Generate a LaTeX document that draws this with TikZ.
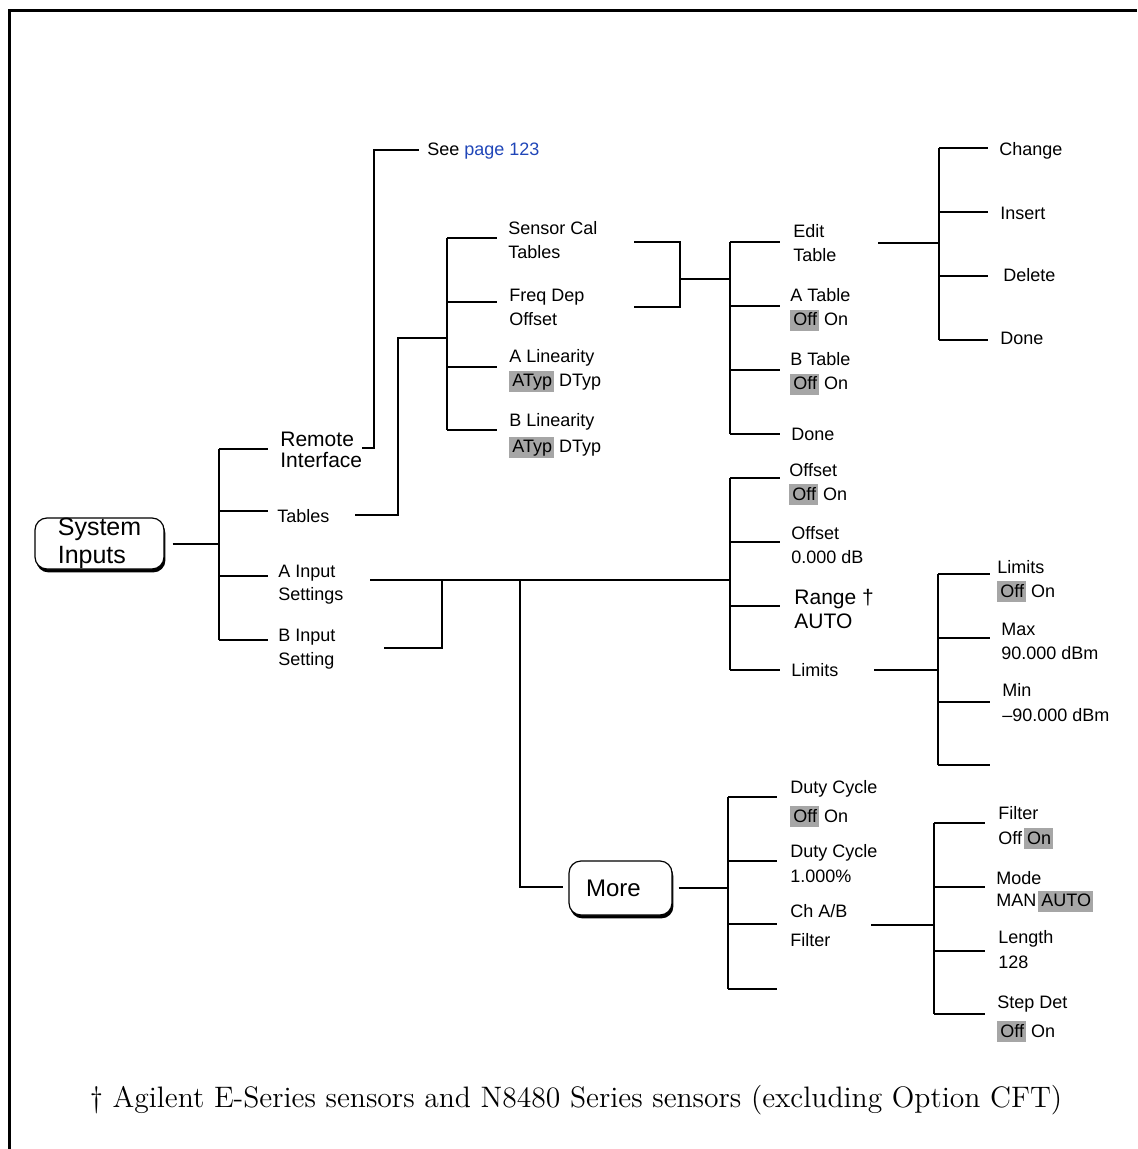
\documentclass[tikz,border=0pt]{standalone}
\usepackage{fontspec}
\newfontfamily\arial{Liberation Sans}
\usetikzlibrary{shadows}
\definecolor{SelGray}{HTML}{A6A6A6}
\definecolor{LinkBlue}{HTML}{2046B8}
% grey box round the active setting
\newcommand{\sel}[1]{{\setlength{\fboxsep}{0pt}\colorbox{SelGray}{\rule[-2.5pt]{0pt}{10.5pt}\hspace{1.5pt}#1\hspace{1pt}}}}
% softkey label on two lines, baseline on the first line
\newcommand{\menutext}[1]{\begin{tabular}[t]{@{}l@{}}#1\end{tabular}}

\begin{document}
\begin{tikzpicture}[x=0.5pt,y=-0.5pt,
  menuline/.style={line width=1pt},
  lbl/.style={anchor=base west,inner sep=0pt,font=\arial\fontsize{9}{12}\selectfont},
  biglbl/.style={lbl,font=\arial\fontsize{10.5}{12}\selectfont},
  keycap/.style={draw,line width=0.6pt,fill=white,rounded corners=6pt,inner sep=0pt,
    drop shadow={shadow xshift=0.7pt,shadow yshift=-1.7pt,opacity=1,fill=black}}]
  \useasboundingbox (0,0) rectangle (1137,1149);
  \draw[line width=1.5pt] (9.5,1149) -- (9.5,11) -- (1137,11);

  % front panel keys
  \node[keycap,minimum width=64.5pt,minimum height=25.5pt,align=left,font=\arial\fontsize{12.5}{14}\selectfont] (sysKey) at (99.5,543.5) {System\\Inputs};
  \node[keycap,minimum width=51.5pt,minimum height=27pt,text width=34.5pt,align=left,font=\arial\fontsize{12}{14}\selectfont] (moreKey) at (620.5,888) {More};

  % System Inputs
  \path (219,449) coordinate (s1) (219,511) coordinate (s2) (219,576) coordinate (s3) (219,640) coordinate (s4);
  \draw[menuline] ([xshift=4pt]sysKey.east) -- (sysKey.east -| s1);
  \draw[menuline] (s1) -- (s4);
  \foreach \s in {s1,s2,s3,s4} \draw[menuline] (\s) -- ++(49,0);
  \node[biglbl,font=\arial\fontsize{10.5}{10}\selectfont] (remote) at (280,446) {\menutext{Remote\\Interface}};
  \node[lbl] (tables) at (277,522) {Tables};
  \node[lbl,font=\arial\fontsize{9}{11.5}\selectfont] (ainput) at (278,577) {\menutext{A Input\\Settings}};
  \node[lbl] (binput) at (278,641) {\menutext{B Input\\Setting}};

  % Remote Interface
  \coordinate (remOut) at (362,448);
  \coordinate (seeIn) at (419,150);
  \draw[menuline] (remOut) -- ++(12,0) |- (seeIn);
  \node[lbl] (seepage) at (427,156) {See \textcolor{LinkBlue}{page 123}};

  % Tables
  \path (355,515) coordinate (tabOut) (447,338) coordinate (tSp);
  \path (447,238) coordinate (t1) (447,302) coordinate (t2) (447,367) coordinate (t3) (447,430) coordinate (t4);
  \draw[menuline] (tabOut) -- ++(43,0) |- (tSp);
  \draw[menuline] (t1) -- (t4);
  \foreach \s in {t1,t2,t3,t4} \draw[menuline] (\s) -- ++(50,0);
  \node[lbl] (sensCal) at (508,235) {\menutext{Sensor Cal\\Tables}};
  \node[lbl] (freqDep) at (509,302) {\menutext{Freq Dep\\Offset}};
  \node[lbl] (aLin) at (509,363) {\menutext{A Linearity\\\sel{ATyp} DTyp}};
  \node[lbl] (bLin) at (509,427) {\menutext{B Linearity\\[1pt]\sel{ATyp} DTyp}};

  % table editing
  \path (634,242) coordinate (sOut) (634,307) coordinate (fOut) (680,279) coordinate (sfJoin);
  \path (730,242) coordinate (e1) (730,306) coordinate (e2) (730,370) coordinate (e3) (730,434) coordinate (e4);
  \draw[menuline] (sOut) -| (sfJoin) |- (fOut);
  \draw[menuline] (sfJoin) -- (sfJoin -| e1);
  \draw[menuline] (e1) -- (e4);
  \foreach \s in {e1,e2,e3,e4} \draw[menuline] (\s) -- ++(50,0);
  \node[lbl] (editTab) at (793,238) {\menutext{Edit\\Table}};
  \node[lbl] (aTab) at (790,302) {\menutext{A Table\\\sel{Off} On}};
  \node[lbl] (bTab) at (790,366) {\menutext{B Table\\\sel{Off} On}};
  \node[lbl] (doneA) at (791,440) {Done};

  % Edit Table
  \coordinate (edOut) at (878,243);
  \path (939,148) coordinate (c1) (939,212) coordinate (c2) (939,276) coordinate (c3) (939,340) coordinate (c4);
  \draw[menuline] (edOut) -- (edOut -| c1);
  \draw[menuline] (c1) -- (c4);
  \foreach \s in {c1,c2,c3,c4} \draw[menuline] (\s) -- ++(49,0);
  \node[lbl] (change) at (999,156) {Change};
  \node[lbl] (insert) at (1000,220) {Insert};
  \node[lbl] (delete) at (1003,282) {Delete};
  \node[lbl] (doneB) at (1000,345) {Done};

  % A / B Input Settings
  \path (370,580) coordinate (ainOut) (384,648) coordinate (binOut) (442,580) coordinate (abJoin);
  \path (520,580) coordinate (moreJoin) (563,887) coordinate (moreIn);
  \path (730,478) coordinate (o1) (730,542) coordinate (o2) (730,606) coordinate (o3) (730,670) coordinate (o4);
  \draw[menuline] (ainOut) -- (ainOut -| o1);
  \draw[menuline] (binOut) -| (abJoin);
  \draw[menuline] (moreJoin) |- (moreIn);
  \draw[menuline] (o1) -- (o4);
  \foreach \s in {o1,o2,o3,o4} \draw[menuline] (\s) -- ++(50,0);
  \node[lbl] (offsetOn) at (789,476) {\menutext{Offset\\\sel{Off} On}};
  \node[lbl] (offsetDb) at (791,539) {\menutext{Offset\\0.000 dB}};
  \node[biglbl] (range) at (794,604) {\menutext{Range †\\AUTO}};
  \node[lbl] (limits) at (791,676) {Limits};

  % Limits
  \coordinate (limOut) at (874,670);
  \path (938,574) coordinate (l1) (938,638) coordinate (l2) (938,702) coordinate (l3) (938,765) coordinate (l4);
  \draw[menuline] (limOut) -- (limOut -| l1);
  \draw[menuline] (l1) -- (l4);
  \foreach \s in {l1,l2,l3,l4} \draw[menuline] (\s) -- ++(52,0);
  \node[lbl] (limOn) at (997,573) {\menutext{Limits\\\sel{Off} On}};
  \node[lbl] (limMax) at (1001,635) {\menutext{Max\\90.000 dBm}};
  \node[lbl] (limMin) at (1002,696) {\menutext{Min\\[0.5pt]–90.000 dBm}};

  % More
  \path (728,797) coordinate (m1) (728,861) coordinate (m2) (728,924) coordinate (m3) (728,989) coordinate (m4);
  \draw[menuline] ([xshift=3pt]moreKey.east) -- (moreKey.east -| m1);
  \draw[menuline] (m1) -- (m4);
  \foreach \s in {m1,m2,m3,m4} \draw[menuline] (\s) -- ++(49,0);
  \node[lbl] (dutyOn) at (790,793) {\menutext{Duty Cycle\\[2.5pt]\sel{Off} On}};
  \node[lbl] (dutyVal) at (790,857) {\menutext{Duty Cycle\\[0.5pt]1.000\%}};
  \node[lbl] (chFilt) at (790,917) {\menutext{Ch A/B\\[2.5pt]Filter}};

  % Ch A/B Filter
  \coordinate (chOut) at (871,925);
  \path (934,823) coordinate (f1) (934,887) coordinate (f2) (934,951) coordinate (f3) (934,1014) coordinate (f4);
  \draw[menuline] (chOut) -- (chOut -| f1);
  \draw[menuline] (f1) -- (f4);
  \foreach \s in {f1,f2,f3,f4} \draw[menuline] (\s) -- ++(51,0);
  \node[lbl] (filtOn) at (998,819) {\menutext{Filter\\[0.5pt]Off\hspace{1pt}\sel{On}}};
  \node[lbl,font=\arial\fontsize{9}{11}\selectfont] (filtMode) at (996,884) {\menutext{Mode\\MAN\hspace{1pt}\sel{AUTO}}};
  \node[lbl] (filtLen) at (998,943) {\menutext{Length\\[0.5pt]128}};
  \node[lbl] (stepDet) at (997,1008) {\menutext{Step Det\\[2.5pt]\sel{Off} On}};

  % footnote
  \node[anchor=base,inner sep=0pt,font=\fontsize{14.8}{17}\selectfont] (note) at (576,1107) {\textdagger\ Agilent E-Series sensors and N8480 Series sensors (excluding Option CFT)};
\end{tikzpicture}
\end{document}
